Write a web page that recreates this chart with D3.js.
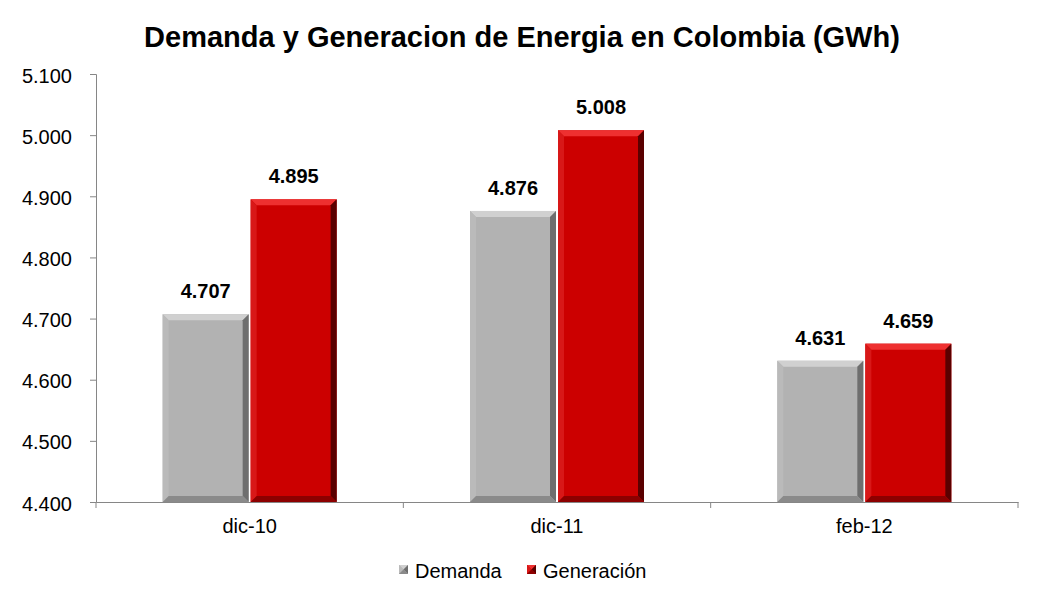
<!DOCTYPE html>
<html lang="es">
<head>
<meta charset="utf-8">
<script src="https://d3js.org/d3.v7.min.js"></script>
<style>
  body { margin: 0; background: #fff; }
  text { font-family: "Liberation Sans", Arial, sans-serif; fill: #000; }
  .axis path, .axis line { stroke: #868686; }
  .axis text { font-size: 20px; }
</style>
<title>Demanda y Generacion</title>
</head>
<body>
<div id="chart"></div>
<script>
var categories = ["dic-10", "dic-11", "feb-12"];
var demanda = [4707, 4876, 4631];
var generacion = [4895, 5008, 4659];
var seriesNames = ["Demanda", "Generación"];
var yTicks = [4400, 4500, 4600, 4700, 4800, 4900, 5000, 5100];

var W = 1042, H = 601;
var margin = {top: 74, right: 24, bottom: 99, left: 96};
var width = W - margin.left - margin.right,
    height = H - margin.top - margin.bottom;

var svg = d3.select("#chart").append("svg")
    .attr("width", W).attr("height", H);

svg.append("text")
    .attr("x", 522).attr("y", 47)
    .attr("text-anchor", "middle")
    .style("font-size", "29px").style("font-weight", "bold")
    .text("Demanda y Generacion de Energia en Colombia (GWh)");

var g = svg.append("g")
    .attr("transform", "translate(" + margin.left + "," + margin.top + ")");

var x = d3.scaleBand().domain(categories).range([0, width]).paddingInner(0).paddingOuter(0);
var x1 = d3.scaleBand().domain([0, 1]).range([0, 174]).padding(0);
var y = d3.scaleLinear().domain([4400, 5100]).range([height, 0]);

var fmt = function(v) { return d3.format(",.0f")(v).replace(",", "."); };

// axes
var yAxis = g.append("g").attr("class", "axis")
    .call(d3.axisLeft(y).tickValues(yTicks).tickFormat(fmt).tickSizeOuter(0).tickSize(6).tickPadding(18));
yAxis.selectAll("text").attr("dy", "0.4em");

var xAxis = g.append("g").attr("class", "axis")
    .attr("transform", "translate(0," + height + ")")
    .call(d3.axisBottom(x).tickSize(0).tickPadding(17));
// category separators
xAxis.selectAll(".sep").data(d3.range(categories.length + 1)).enter()
    .append("line").attr("class", "sep")
    .attr("x1", function(i) { return i * x.bandwidth(); })
    .attr("x2", function(i) { return i * x.bandwidth(); })
    .attr("y1", 0).attr("y2", 6)
    .attr("stroke", "#868686");

var palettes = [
  {base: "#b2b2b2", top: "#d0d0d0", left: "#bababa", right: "#6e6e6e", bottom: "#8a8a8a"},
  {base: "#cc0000", top: "#ee3030", left: "#d81818", right: "#5a0000", bottom: "#8c0000"}
];

function bevelBar(sel, x0, y0, w, h, p) {
  var b = Math.min(6, h / 2);
  sel.append("rect").attr("x", x0).attr("y", y0).attr("width", w).attr("height", h).attr("fill", p.base);
  var pts = function(a) { return a.map(function(q) { return q.join(","); }).join(" "); };
  sel.append("polygon").attr("fill", p.top)
    .attr("points", pts([[x0, y0], [x0 + w, y0], [x0 + w - b, y0 + b], [x0 + b, y0 + b]]));
  sel.append("polygon").attr("fill", p.left)
    .attr("points", pts([[x0, y0], [x0 + b, y0 + b], [x0 + b, y0 + h - b], [x0, y0 + h]]));
  sel.append("polygon").attr("fill", p.right)
    .attr("points", pts([[x0 + w, y0], [x0 + w, y0 + h], [x0 + w - b, y0 + h - b], [x0 + w - b, y0 + b]]));
  sel.append("polygon").attr("fill", p.bottom)
    .attr("points", pts([[x0, y0 + h], [x0 + b, y0 + h - b], [x0 + w - b, y0 + h - b], [x0 + w, y0 + h]]));
}

var series = [demanda, generacion];
var groupOffset = (x.bandwidth() - 174) / 2;

categories.forEach(function(c, i) {
  series.forEach(function(s, k) {
    var bx = x(c) + groupOffset + x1(k) + (k === 1 ? 1 : 0);
    var bw = x1.bandwidth() - 1;
    var by = y(s[i]);
    var bh = height - by;
    bevelBar(g.append("g"), bx, by, bw, bh, palettes[k]);
    g.append("text")
      .attr("x", bx + bw / 2).attr("y", by - 16)
      .attr("text-anchor", "middle")
      .style("font-size", "20px").style("font-weight", "bold")
      .text(fmt(s[i]));
  });
});

// legend
var legend = svg.append("g").attr("transform", "translate(399,564)");
var lx = [0, 128];
seriesNames.forEach(function(n, k) {
  var lg = legend.append("g").attr("transform", "translate(" + lx[k] + ",0)");
  bevelBar(lg, 0, 1, 9, 9, palettes[k]);
  lg.append("text").attr("x", 16).attr("y", 14).style("font-size", "20px").text(n);
});
</script>
</body>
</html>
